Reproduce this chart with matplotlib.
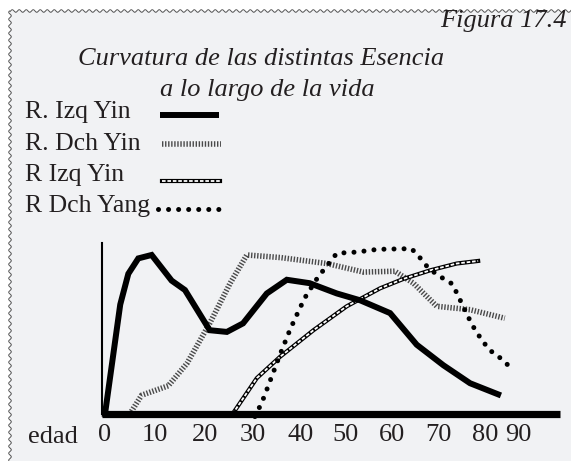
import numpy as np
import matplotlib
matplotlib.use('Agg')
import matplotlib.pyplot as plt
from matplotlib.lines import Line2D
from matplotlib.patches import Rectangle

# Datos (edad, valor relativo 0-100)
edad_izq_yin = [0, 3.2, 4.9, 7.0, 9.8, 14, 16.8, 22, 25.6, 29, 34, 38.2, 43,
                48.7, 53.6, 59.9, 65.5, 71.1, 76.7, 82.6]
izq_yin = [0, 64, 82, 91, 93, 78, 72.5, 49, 48, 53, 70.5, 78.5, 76.5,
           70.5, 66.5, 59, 40.5, 28.5, 18, 11.5]

edad_dch_yin = [5.2, 7.7, 13.3, 17.2, 22, 26.3, 29.8, 36.8, 46.6, 54.3,
                60.9, 64.8, 69.7, 76.7, 84]
dch_yin = [0, 11, 16.5, 29.5, 53, 76.5, 93, 91.5, 88, 83, 83.5, 76.5, 63, 61, 56]

edad_izq_yin_b = [26.8, 31.9, 36.8, 43.8, 50.8, 57.8, 62.7, 68.3, 73.9, 78.4]
izq_yin_b = [0, 21, 33.5, 49, 63, 73.5, 79, 84, 88, 89.5]

edad_dch_yang = [31.5, 33, 34.1, 36.6, 38.9, 40.8, 42, 44.5, 46, 47.3, 48.7,
                 52.9, 57.3, 64.4, 66, 67.6, 69.3, 71.2, 73, 74.9, 76.8, 78,
                 80.2, 81.6, 83.2, 84.7]
dch_yang = [-1.5, 7, 15, 33.5, 49.5, 61, 68, 79, 84.5, 89, 94, 94.7, 96.3,
            96.7, 92, 86.5, 82.5, 79, 76, 65, 54, 48, 39.5, 35.5, 32.5, 28.5]

tick_labels = ['0', '10', '20', '30', '40', '50', '60', '70', '80', '90']
leyenda = ['R. Izq Yin', 'R. Dch Yin', 'R Izq Yin', 'R Dch Yang']

W, H = 571, 461
plt.rcParams['font.family'] = ['Liberation Serif', 'DejaVu Serif']
TXT = '#231f20'

fig = plt.figure(figsize=(W / 100, H / 100), dpi=100)
fig.patch.set_facecolor('white')


def fx(x):
    return x / W


def fy(y):
    return 1 - y / H


# fondo gris y borde ondulado
fig.add_artist(Rectangle((fx(10), 0), 1 - fx(10), fy(11), transform=fig.transFigure,
                         facecolor='#f1f2f4', edgecolor='none', zorder=0))
t = np.linspace(10, W, 2000)
fig.add_artist(Line2D(fx(t), fy(11 + 1.3 * np.sin(t * 2 * np.pi / 7)),
                      transform=fig.transFigure, color='#555555', lw=0.7))
t = np.linspace(11, H, 2000)
fig.add_artist(Line2D(fx(10 + 1.3 * np.sin(t * 2 * np.pi / 7)), fy(t),
                      transform=fig.transFigure, color='#555555', lw=0.7))

# textos
fig.text(fx(567), fy(27), 'Figura 17.4', fontsize=19, style='italic',
         ha='right', va='baseline', color=TXT)
fig.text(fx(261), fy(65), 'Curvatura de las distintas Esencia', fontsize=19,
         style='italic', ha='center', va='baseline', color=TXT)
fig.text(fx(267), fy(96), 'a lo largo de la vida', fontsize=19,
         style='italic', ha='center', va='baseline', color=TXT)

# estilos de linea
DOTS = dict(color='black', lw=3.6, linestyle=(0, (0.01, 2.0)), dash_capstyle='round')
HATCH = dict(color='#4a4a4a', lw=4.0, linestyle=(0, (0.25, 0.3)), dash_capstyle='butt')
THICK = dict(color='black', lw=4.3, solid_capstyle='butt')
CHAIN_OUT = dict(color='black', lw=3.0)
CHAIN_IN = dict(color='white', lw=1.3, linestyle=(0, (2.0, 1.0)))

# leyenda manual
bases = [118, 150, 181, 212]
muestras_y = [115, 144, 181, 209]
muestras_x = [(160, 219), (162, 221), (162, 220), (158, 222)]
for i, txt in enumerate(leyenda):
    fig.text(fx(25), fy(bases[i]), txt, fontsize=18.5, ha='left', va='baseline',
             color=TXT)
    x0, x1 = muestras_x[i]
    xs = [fx(x0), fx(x1)]
    ys = [fy(muestras_y[i])] * 2
    if i == 0:
        fig.add_artist(Line2D(xs, ys, transform=fig.transFigure, **THICK))
    elif i == 1:
        fig.add_artist(Line2D(xs, ys, transform=fig.transFigure, **HATCH))
    elif i == 2:
        fig.add_artist(Line2D(xs, ys, transform=fig.transFigure, **CHAIN_OUT))
        fig.add_artist(Line2D(xs, ys, transform=fig.transFigure, **CHAIN_IN))
    else:
        fig.add_artist(Line2D(xs, ys, transform=fig.transFigure, **DOTS))

# ejes
ax = fig.add_axes([fx(102), fy(414), fx(560) - fx(102), fy(243) - fy(414)])
ax.set_facecolor('none')
ax.set_xlim(-0.63, 95.6)
ax.set_ylim(0, 100)

ax.plot(edad_dch_yin, dch_yin, zorder=2, **HATCH)
ax.plot(edad_izq_yin_b, izq_yin_b, zorder=3, **CHAIN_OUT)
ax.plot(edad_izq_yin_b, izq_yin_b, zorder=3, **CHAIN_IN)
ax.plot(edad_dch_yang, dch_yang, zorder=4, clip_on=False, **DOTS)
ax.plot(edad_izq_yin, izq_yin, zorder=5, clip_on=False, solid_joinstyle='miter',
        color='black', lw=4.3)

ax.axhline(0, color='black', lw=5.2, solid_capstyle='butt', zorder=6, clip_on=False)
for s in ['top', 'right', 'bottom']:
    ax.spines[s].set_visible(False)
ax.spines['left'].set_linewidth(1.5)
ax.set_yticks([])

tick_pos = [0, 10.5, 21, 31, 41, 50.5, 60.3, 70, 79.8, 86.8]
ax.set_xticks(tick_pos)
ax.set_xticklabels(tick_labels, fontsize=19, color=TXT)
ax.tick_params(axis='x', length=0, pad=7)

fig.text(fx(28), fy(443), 'edad', fontsize=19, ha='left', va='baseline',
         color=TXT)

fig.savefig('out.png', dpi=100)
